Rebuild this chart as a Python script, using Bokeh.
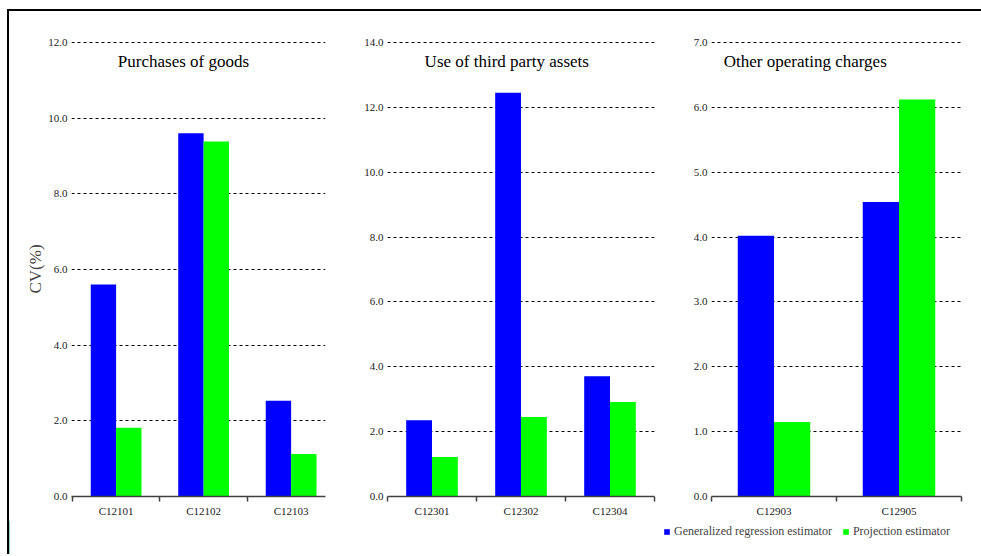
from bokeh.plotting import figure
from bokeh.layouts import row, column
from bokeh.models import (Range1d, FixedTicker, Label, Legend, LegendItem,
                          ColumnDataSource, PrintfTickFormatter, Spacer)
from bokeh.transform import dodge
from bokeh.embed import file_html
from bokeh.resources import INLINE

# ---- data ----
series_names = ["Generalized regression estimator", "Projection estimator"]

titles = ["Purchases of goods", "Use of third party assets", "Other operating charges"]

cats1 = ["C12101", "C12102", "C12103"]
greg1 = [5.60, 9.60, 2.53]
proj1 = [1.82, 9.38, 1.12]

cats2 = ["C12301", "C12302", "C12304"]
greg2 = [2.35, 12.45, 3.71]
proj2 = [1.22, 2.45, 2.91]

cats3 = ["C12903", "C12905"]
greg3 = [4.02, 4.54]
proj3 = [1.15, 6.12]

y_max = [12.0, 14.0, 7.0]
y_step = [2.0, 2.0, 1.0]

BLUE = "#0000FF"
GREEN = "#00FF00"
FONT = "Liberation Serif"
BAR_W = 0.29
NOCLIP = {"overflow": "hidden"}


def make_panel(cats, greg, proj, title, ymax, ystep, width, left, right,
               xstart, xend, title_x, title_y, ylabel=None):
    n = len(cats)
    idx = list(range(n))
    src = ColumnDataSource(dict(x=idx, greg=greg, proj=proj, cat=cats))
    p = figure(width=width, height=509,
               x_range=Range1d(xstart, xend),
               y_range=Range1d(0, ymax * 1.002),
               output_backend="svg", toolbar_location=None,
               min_border_left=left, min_border_right=right,
               min_border_top=30, min_border_bottom=24)
    p.outline_line_color = None
    p.background_fill_color = "white"
    p.border_fill_color = "white"

    p.vbar(x=dodge("x", -BAR_W / 2, range=p.x_range), top="greg",
           width=BAR_W, source=src, fill_color=BLUE, line_color=None)
    p.vbar(x=dodge("x", BAR_W / 2, range=p.x_range), top="proj",
           width=BAR_W, source=src, fill_color=GREEN, line_color=None)

    # y axis
    yt = []
    v = 0.0
    while v <= ymax + 1e-9:
        yt.append(v)
        v += ystep
    p.yaxis.ticker = FixedTicker(ticks=yt)
    p.yaxis.formatter = PrintfTickFormatter(format="%.1f")
    p.yaxis.axis_line_color = None
    p.yaxis.major_tick_line_color = None
    p.yaxis.minor_tick_line_color = None
    p.yaxis.major_tick_in = 0
    p.yaxis.major_tick_out = 0
    p.yaxis.major_label_standoff = 4
    p.yaxis.major_label_text_font = FONT
    p.yaxis.major_label_text_font_size = "11px"
    p.yaxis.major_label_text_color = "#222222"
    if ylabel:
        p.yaxis.axis_label = ylabel
        p.yaxis.axis_label_text_font = FONT
        p.yaxis.axis_label_text_font_size = "17px"
        p.yaxis.axis_label_text_font_style = "normal"
        p.yaxis.axis_label_standoff = 0

    # grid
    p.xgrid.grid_line_color = None
    p.ygrid.grid_line_color = "black"
    p.ygrid.grid_line_dash = "3 3"
    p.ygrid.grid_line_width = 1

    # x axis
    seps = [i - 0.5 for i in range(n + 1)]
    p.xaxis.ticker = FixedTicker(ticks=idx, minor_ticks=seps)
    p.xaxis.major_label_overrides = {i: c for i, c in zip(idx, cats)}
    p.xaxis.major_tick_in = 0
    p.xaxis.major_tick_out = 0
    p.xaxis.minor_tick_in = 0
    p.xaxis.minor_tick_out = 5
    p.xaxis.minor_tick_line_color = "#404040"
    p.xaxis.minor_tick_line_width = 1.5
    p.xaxis.axis_line_color = "#404040"
    p.xaxis.axis_line_width = 1.5
    p.xaxis.major_label_standoff = 3
    p.xaxis.major_label_text_font = FONT
    p.xaxis.major_label_text_font_size = "11px"
    p.xaxis.major_label_text_color = "#222222"

    p.add_layout(Label(x=title_x, y=title_y, text=title, text_align="center",
                       text_baseline="middle", text_font=FONT,
                       text_font_size="17px", text_color="black"))
    return p


p1 = make_panel(cats1, greg1, proj1, titles[0], y_max[0], y_step[0],
                330, 62, 14, -0.51, 2.393, 0.77, 11.50, ylabel="CV(%)")
p2 = make_panel(cats2, greg2, proj2, titles[1], y_max[1], y_step[1],
                320, 48, 5, -0.5, 2.5, 0.84, 13.42)
p3 = make_panel(cats3, greg3, proj3, titles[2], y_max[2], y_step[2],
                322, 52, 20, -0.5, 1.5, 0.25, 6.70)

# legend strip below the panels (swatches only; placed outside the visible range)
pl = figure(width=972, height=34, x_range=Range1d(0, 1), y_range=Range1d(0, 1),
            output_backend="svg", toolbar_location=None,
            x_axis_location=None, y_axis_location=None,
            min_border_left=0, min_border_right=0,
            min_border_top=0, min_border_bottom=0)
pl.outline_line_color = None
pl.border_fill_color = "white"
pl.background_fill_color = "white"
pl.xgrid.grid_line_color = None
pl.ygrid.grid_line_color = None
lb1 = pl.vbar(x=[-5], top=[1], width=0.1, fill_color=BLUE, line_color=None)
lb2 = pl.vbar(x=[-5], top=[1], width=0.1, fill_color=GREEN, line_color=None)
legend = Legend(items=[LegendItem(label=series_names[0], renderers=[lb1]),
                       LegendItem(label=series_names[1], renderers=[lb2])],
                orientation="horizontal", location=(654, 15),
                border_line_color=None, background_fill_alpha=0,
                padding=0, margin=0, spacing=10, glyph_width=7, glyph_height=7,
                label_standoff=4, label_text_font=FONT,
                label_text_font_size="12px", label_height=14)
pl.add_layout(legend)

# outer frame lines (top and left) drawn as black spacers
top_line = Spacer(width=974, height=2, styles={"background-color": "black"})
left_line = Spacer(width=2, height=543, styles={"background-color": "black"})

body = column(row(p1, p2, p3, styles=NOCLIP), pl, styles=NOCLIP)
framed = column(top_line, row(left_line, body, styles=NOCLIP), styles=NOCLIP)
layout = column(Spacer(height=9), row(Spacer(width=7), framed, styles=NOCLIP),
                styles=NOCLIP)

open("out.html", "w").write(file_html(layout, INLINE))
